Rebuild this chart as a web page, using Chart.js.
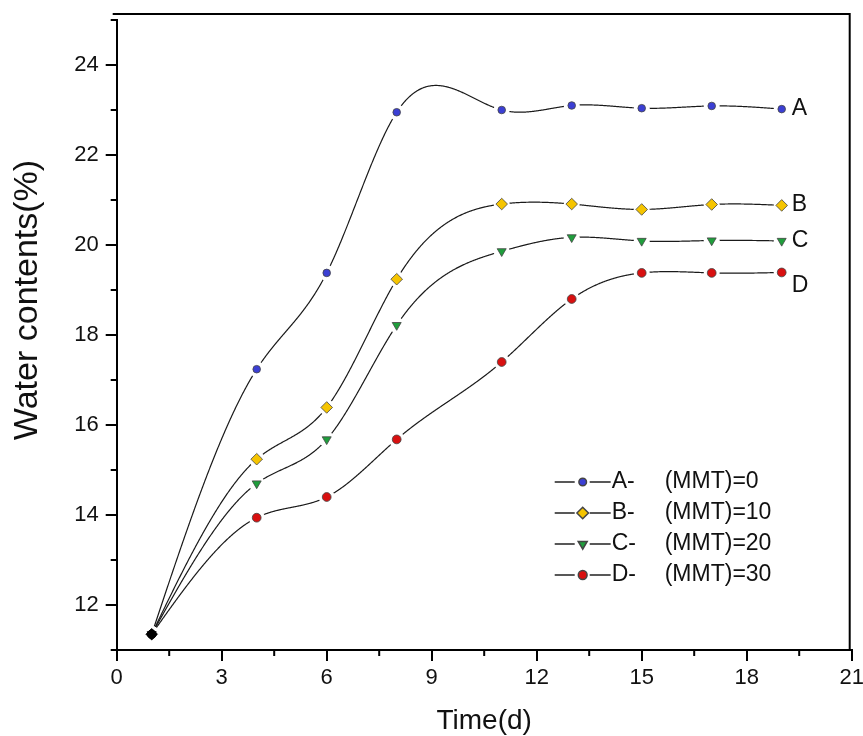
<!DOCTYPE html>
<html><head><meta charset="utf-8">
<script src="https://cdn.jsdelivr.net/npm/chart.js@4/dist/chart.umd.min.js"></script>
<style>html,body{margin:0;padding:0;background:#fff}#wrap{width:863px;height:736px}</style>
</head><body><div id="wrap"><canvas id="c" width="863" height="736"></canvas></div>
<script>
// ---- data ----
const days = [1, 4, 6, 8, 11, 13, 15, 17, 19];
const seriesA = [11.35, 17.24, 19.38, 22.95, 23.0, 23.1, 23.04, 23.09, 23.02];
const seriesB = [11.35, 15.24, 16.39, 19.24, 20.91, 20.91, 20.79, 20.9, 20.88];
const seriesC = [11.35, 14.7, 15.68, 18.22, 19.86, 20.17, 20.09, 20.1, 20.09];
const seriesD = [11.35, 13.94, 14.4, 15.68, 17.4, 18.8, 19.38, 19.38, 19.39];
const seriesNames = ['A', 'B', 'C', 'D'];
const mmtContents = [0, 10, 20, 30];
const xTicks = [0, 3, 6, 9, 12, 15, 18, 21];
const yTicks = [12, 14, 16, 18, 20, 22, 24];
const yTitle = 'Water contents(%)';
const xTitle = 'Time(d)';

const FONT = "'Liberation Sans', Arial, Helvetica, sans-serif";
const allSeries = [seriesA, seriesB, seriesC, seriesD];
const colors = ['#3b3fd4', '#f5c400', '#1f9e3c', '#d81010'];
const styles = ['circle', 'rectRot', 'triangle', 'circle'];
const radii = [3.8, 5.8, 5.2, 4.4];
const rotations = [0, 0, 180, 0];
const labelOffsets = [0, -1, 0, 13];

function naturalSpline(xs, ys) {
  const n = xs.length;
  const h = [], alpha = [];
  for (let i = 0; i < n - 1; i++) h.push(xs[i + 1] - xs[i]);
  const l = new Array(n).fill(0), mu = new Array(n).fill(0), z = new Array(n).fill(0), c = new Array(n).fill(0), b = [], d = [];
  for (let i = 1; i < n - 1; i++) alpha[i] = 3 / h[i] * (ys[i + 1] - ys[i]) - 3 / h[i - 1] * (ys[i] - ys[i - 1]);
  l[0] = 1;
  for (let i = 1; i < n - 1; i++) {
    l[i] = 2 * (xs[i + 1] - xs[i - 1]) - h[i - 1] * mu[i - 1];
    mu[i] = h[i] / l[i];
    z[i] = (alpha[i] - h[i - 1] * z[i - 1]) / l[i];
  }
  for (let j = n - 2; j >= 0; j--) {
    c[j] = z[j] - mu[j] * c[j + 1];
    b[j] = (ys[j + 1] - ys[j]) / h[j] - h[j] * (c[j + 1] + 2 * c[j]) / 3;
    d[j] = (c[j + 1] - c[j]) / (3 * h[j]);
  }
  return x => {
    let i = n - 2;
    for (let k = 0; k < n - 1; k++) { if (x <= xs[k + 1]) { i = k; break; } }
    const dx = x - xs[i];
    return ys[i] + b[i] * dx + c[i] * dx * dx + d[i] * dx * dx * dx;
  };
}

const splinePlugin = {
  id: 'spline',
  beforeDatasetsDraw(chart) {
    const { ctx, scales: { x, y }, chartArea } = chart;
    ctx.save();
    ctx.beginPath();
    ctx.rect(chartArea.left, chartArea.top, chartArea.width, chartArea.height);
    ctx.clip();
    ctx.strokeStyle = '#1a1a1a';
    ctx.lineWidth = 1.2;
    allSeries.forEach(vals => {
      const f = naturalSpline(days, vals);
      const p0 = x.getPixelForValue(days[0]);
      const p1 = x.getPixelForValue(days[days.length - 1]);
      ctx.beginPath();
      for (let px = p0; px <= p1 + 0.01; px += 0.5) {
        const py = y.getPixelForValue(f(x.getValueForPixel(px)));
        if (px === p0) ctx.moveTo(px, py); else ctx.lineTo(px, py);
      }
      ctx.stroke();
    });
    ctx.fillStyle = '#fff';
    allSeries.forEach(vals => days.forEach((d, i) => {
      ctx.beginPath();
      ctx.arc(x.getPixelForValue(d), y.getPixelForValue(vals[i]), 8, 0, 2 * Math.PI);
      ctx.fill();
    }));
    ctx.restore();
  },
  afterDraw(chart) {
    const { ctx, scales: { x, y }, chartArea } = chart;
    ctx.save();
    // frame
    ctx.strokeStyle = '#000';
    ctx.lineWidth = 2;
    ctx.beginPath();
    ctx.moveTo(chartArea.left - 4, chartArea.top - 6);
    ctx.lineTo(chartArea.right - 2, chartArea.top - 6);
    ctx.lineTo(chartArea.right - 2, chartArea.bottom);
    ctx.stroke();
    // minor ticks
    ctx.beginPath();
    for (let i = 0; i < xTicks.length - 1; i++) {
      const px = x.getPixelForValue((xTicks[i] + xTicks[i + 1]) / 2);
      ctx.moveTo(px, chartArea.bottom);
      ctx.lineTo(px, chartArea.bottom + 6);
    }
    const ym = [y.min].concat(yTicks.map(v => v + 1));
    ym.forEach(v => {
      const py = y.getPixelForValue(v);
      ctx.moveTo(chartArea.left, py);
      ctx.lineTo(chartArea.left - 6, py);
    });
    ctx.stroke();
    // y axis title
    ctx.save();
    ctx.fillStyle = '#111';
    ctx.font = '34px ' + FONT;
    ctx.textAlign = 'center';
    ctx.textBaseline = 'middle';
    ctx.translate(28, (chartArea.top + chartArea.bottom) / 2 - 35);
    ctx.rotate(-Math.PI / 2);
    ctx.fillText(yTitle, 0, 0);
    ctx.restore();
    // end labels
    ctx.fillStyle = '#111';
    ctx.font = '23px ' + FONT;
    ctx.textAlign = 'left';
    ctx.textBaseline = 'middle';
    allSeries.forEach((vals, k) => {
      const last = vals.length - 1;
      ctx.fillText(seriesNames[k], x.getPixelForValue(days[last]) + 10, y.getPixelForValue(vals[last]) + labelOffsets[k]);
    });
    // legend
    const lx = chartArea.left + 438;
    const ly0 = chartArea.top + 462;
    const step = 31;
    seriesNames.forEach((nm, k) => {
      const ly = ly0 + k * step;
      ctx.strokeStyle = '#222';
      ctx.lineWidth = 1.5;
      ctx.beginPath();
      ctx.moveTo(lx, ly); ctx.lineTo(lx + 20, ly);
      ctx.moveTo(lx + 35, ly); ctx.lineTo(lx + 56, ly);
      ctx.stroke();
      ctx.fillStyle = colors[k];
      ctx.strokeStyle = '#444';
      Chart.helpers.drawPoint(ctx, { pointStyle: styles[k], radius: radii[k], rotation: rotations[k], borderWidth: 0.8 }, lx + 28, ly);
      ctx.fillStyle = '#111';
      ctx.font = '23px ' + FONT;
      ctx.textAlign = 'left';
      ctx.textBaseline = 'middle';
      ctx.fillText(nm + '-', lx + 57, ly);
      ctx.fillText('(MMT)=' + mmtContents[k], lx + 110, ly);
    });
    ctx.restore();
  }
};

const datasets = allSeries.map((vals, k) => ({
  label: seriesNames[k],
  data: days.map((d, i) => ({ x: d, y: vals[i] })),
  showLine: false,
  pointStyle: styles[k],
  pointRotation: rotations[k],
  pointRadius: radii[k],
  pointBackgroundColor: days.map((d, i) => i === 0 ? '#000' : colors[k]),
  pointBorderColor: days.map((d, i) => i === 0 ? '#000' : '#444'),
  pointBorderWidth: 0.8
}));

new Chart(document.getElementById('c'), {
  type: 'scatter',
  data: { datasets },
  plugins: [splinePlugin],
  options: {
    responsive: false,
    devicePixelRatio: 1,
    animation: false,
    events: [],
    layout: { padding: { top: 20, right: 11.3, left: 0, bottom: 0 } },
    plugins: { legend: { display: false }, tooltip: { enabled: false } },
    scales: {
      x: {
        type: 'linear', min: 0, max: 21, position: 'bottom',
        afterBuildTicks: s => { s.ticks = xTicks.map(v => ({ value: v })); },
        afterFit: s => { s.height = 86; s.paddingLeft = 0; s.paddingRight = 0; },
        grid: { display: true, drawOnChartArea: false, drawTicks: true, tickLength: 11, color: '#000', lineWidth: 2 },
        border: { display: true, color: '#000', width: 2 },
        ticks: { font: { family: FONT, size: 22 }, color: '#111', padding: 4, maxRotation: 0, autoSkip: false },
        title: { display: true, text: xTitle, font: { family: FONT, size: 28, lineHeight: 1 }, color: '#111', padding: { top: 0, bottom: 1 } }
      },
      y: {
        type: 'linear', min: 11, max: 25, position: 'left',
        afterBuildTicks: s => { s.ticks = yTicks.map(v => ({ value: v })); },
        afterFit: s => { s.width = 116.7; s.paddingTop = 0; s.paddingBottom = 0; },
        grid: { display: true, drawOnChartArea: false, drawTicks: true, tickLength: 11, color: '#000', lineWidth: 2 },
        border: { display: true, color: '#000', width: 2 },
        ticks: { font: { family: FONT, size: 22 }, color: '#111', padding: 7, autoSkip: false },
        title: { display: false }
      }
    }
  }
});
</script>
</body></html>
